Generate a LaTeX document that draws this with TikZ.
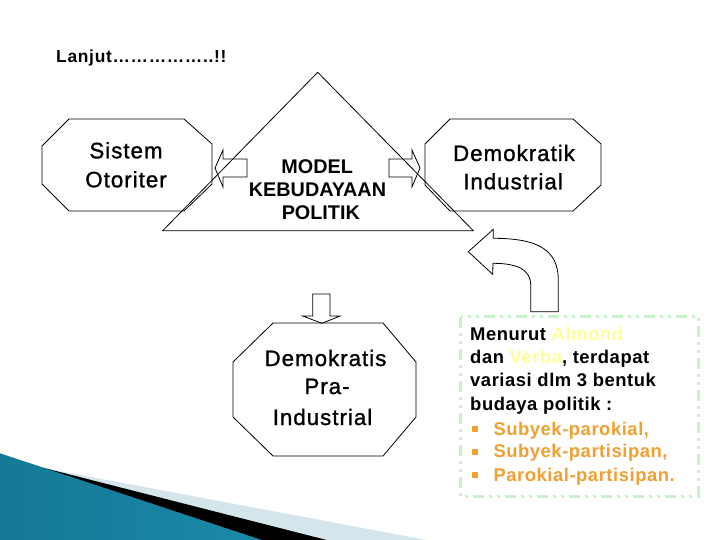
\documentclass[tikz,border=0pt]{standalone}
\usepackage{fontspec}
\setmainfont{Liberation Sans}
\newfontfamily\octfont[LetterSpace=4.5,FakeBold=1.2]{Liberation Sans}
\newfontfamily\boxfont[LetterSpace=3]{Liberation Sans}
\newfontfamily\lanfont[LetterSpace=4]{Liberation Sans}
\newfontfamily\modfont[LetterSpace=0]{Liberation Sans}
\definecolor{almond}{HTML}{FFFF99}
\definecolor{bulc}{HTML}{F0A030}
\definecolor{gbox}{HTML}{C8F2C8}
\definecolor{blueL}{HTML}{157896}
\definecolor{blueM}{HTML}{58BDDC}
\definecolor{blueR}{HTML}{1A8AA8}
\definecolor{lightband}{HTML}{D4E6EC}
\tikzset{
  outl/.style={draw=black, line width=0.8pt, line join=miter},
  octtxt/.style={anchor=base, inner sep=0pt, font=\octfont\fontsize{22.3}{25}\selectfont},
  modtxt/.style={anchor=base, inner sep=0pt, font=\modfont\bfseries\fontsize{19.8}{23}\selectfont},
  boxtxt/.style={anchor=base west, inner sep=0pt, font=\boxfont\bfseries\fontsize{18.4}{22}\selectfont},
  bulsq/.style={fill=bulc, inner sep=0pt, minimum size=6pt, draw=none},
}
\begin{document}
\begin{tikzpicture}[x=1pt,y=-1pt]
\useasboundingbox (0,0) rectangle (720,540);
% bottom-left decoration
\fill[lightband] (45,468.3) -- (427,540) -- (45,540) -- cycle;
\fill[black] (43,467.7) -- (326.7,540) -- (43,540) -- cycle;
\shade[left color=blueL, middle color=blueM, right color=blueR] (0,453.3) -- (261.7,540) -- (0,540) -- cycle;

% title
\node[anchor=base west, inner sep=0pt, font=\lanfont\bfseries\fontsize{17.4}{20}\selectfont] (lanjut) at (56,62.7) {Lanjut……………..!!};

% triangle
\draw[outl] (317.7,72.3) -- (473.3,230.7) -- (162.7,230.7) -- cycle;

% octagons
\draw[outl] (69,119) -- (184,119) -- (212,144) -- (212,184) -- (184,211) -- (69,211) -- (42,184) -- (42,146) -- cycle;
\draw[outl] (450,119) -- (573,119) -- (601,144) -- (601,185) -- (573,211) -- (450,211) -- (425,185) -- (425,144) -- cycle;
\draw[outl] (273,323) -- (383,323) -- (416,362) -- (416,417) -- (383,456) -- (273,456) -- (233,417) -- (233,362) -- cycle;

% block arrows
\draw[outl] (215,168) -- (223,150) -- (223,159) -- (247,159) -- (247,177) -- (223,177) -- (223,187) -- cycle;
\draw[outl] (420,168) -- (412,150) -- (412,159) -- (389,159) -- (389,177) -- (412,177) -- (412,187) -- cycle;
\draw[outl] (322,323.3) -- (340,316) -- (330,316) -- (330,294) -- (312.7,294) -- (312.7,316) -- (302.7,316) -- cycle;
\draw[outl] (468.3,251.7) -- (493.3,229.3) -- (493.3,238.3)
  .. controls (538,238.3) and (558.3,250) .. (558.3,280) -- (558.3,311.7) -- (530.7,311.7) -- (530.7,285)
  .. controls (530.7,270) and (518,263.3) .. (493,263.3) -- (492.7,274.3) -- cycle;

% texts in octagons
\node[octtxt] (sis1) at (126,158.3) {Sistem};
\node[octtxt] (sis2) at (126,187.3) {Otoriter};
\node[octtxt] (dem1) at (514,161) {Demokratik};
\node[octtxt] (dem2) at (513,189.3) {Industrial};
\node[octtxt] (pra1) at (325.5,366) {Demokratis};
\node[octtxt] (pra2) at (327,394) {Pra-};
\node[octtxt] (pra3) at (322.5,425) {Industrial};

% model text
\node[modtxt] (mod1) at (317.2,173.3) {MODEL};
\node[modtxt] (mod2) at (317.5,196.7) {KEBUDAYAAN};
\node[modtxt] (mod3) at (320.8,220) {POLITIK};

% green box
\draw[gbox, line width=3pt, dash pattern=on 11pt off 5pt on 3pt off 5pt on 3pt off 5pt] (460.7,316.7) rectangle (698.3,496);
\node[boxtxt] (b1) at (470,340) {Menurut \textcolor{almond}{Almond}};
\node[boxtxt] (b2) at (470,363.3) {dan \textcolor{almond}{Verba}, terdapat};
\node[boxtxt] (b3) at (470,386.7) {variasi dlm 3 bentuk};
\node[boxtxt] (b4) at (470,410) {budaya politik :};
\node[bulsq] (s1) at (475,429) {};
\node[bulsq] (s2) at (475,451.7) {};
\node[bulsq] (s3) at (475,475) {};
\node[boxtxt, text=bulc] (b5) at (493.3,435) {Subyek-parokial,};
\node[boxtxt, text=bulc] (b6) at (493.3,457.7) {Subyek-partisipan,};
\node[boxtxt, text=bulc] (b7) at (493.3,481) {Parokial-partisipan.};
\end{tikzpicture}
\end{document}
